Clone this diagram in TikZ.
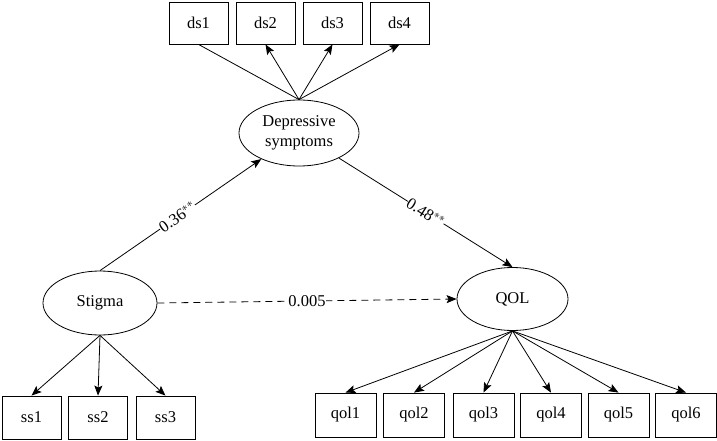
\documentclass[tikz,border=0pt]{standalone}
\usepackage{fontspec}
\setmainfont{Liberation Serif}
\usetikzlibrary{shapes.geometric,arrows.meta}
\begin{document}
\begin{tikzpicture}[x=1pt,y=-1pt,
  font=\fontsize{16.5}{19.6}\selectfont,
  every path/.style={line width=0.8pt},
  obsbox/.style={draw,line width=0.8pt,rectangle,minimum width=59pt,minimum height=42pt,inner sep=0pt},
  qbox/.style={obsbox,minimum width=61pt,minimum height=44pt},
  latent/.style={draw,line width=0.8pt,ellipse,inner sep=0pt,align=center},
  arr/.style={-{Stealth[length=10pt,width=8pt,inset=2pt]}},
  lab/.style={fill=white,inner sep=0.3pt,sloped}
]
\useasboundingbox (0,0) rectangle (717,441);
% latent variables
\node[latent,minimum width=120pt,minimum height=66pt] (dep) at (299,133) {Depressive\\symptoms};
\node[latent,minimum width=114pt,minimum height=64pt] (stig) at (100,303) {Stigma};
\node[latent,minimum width=111pt,minimum height=63pt] (qol) at (512.5,299) {QOL};
% indicators
\node[obsbox] (ds1) at (198.5,23) {ds1};
\node[obsbox] (ds2) at (265.5,23) {ds2};
\node[obsbox] (ds3) at (332.5,23) {ds3};
\node[obsbox] (ds4) at (399.5,23) {ds4};
\node[obsbox,minimum height=43pt] (ss1) at (31.5,417.5) {ss1};
\node[obsbox,minimum height=43pt] (ss2) at (98,417.5) {ss2};
\node[obsbox,minimum height=43pt] (ss3) at (165.5,417.5) {ss3};
\node[qbox] (q1) at (345.5,415) {qol1};
\node[qbox] (q2) at (414,415) {qol2};
\node[qbox] (q3) at (483.5,415) {qol3};
\node[qbox] (q4) at (551,415) {qol4};
\node[qbox] (q5) at (618.5,415) {qol5};
\node[qbox] (q6) at (686,415) {qol6};
% loadings
\draw (dep.north) -- (ds1.south);
\foreach \b in {ds2,ds3,ds4} \draw[arr] (dep.north) -- (\b.south);
\foreach \b in {ss1,ss2,ss3} \draw[arr] (stig.south) -- (\b.north);
\foreach \b in {q1,q2,q3,q4,q5,q6} \draw[arr] (qol.south) -- (\b.north);
% structural paths
\draw[arr] (stig.north) -- node[lab,pos=0.48] {0.36$^{**}$} (dep);
\draw[arr] (dep) -- node[lab,pos=0.5] {0.48$^{**}$} (qol.north);
\draw[arr,dashed,dash pattern=on 7pt off 5pt] (stig.east) -- node[fill=white,inner sep=0.3pt] {0.005} (qol.west);
\end{tikzpicture}
\end{document}
